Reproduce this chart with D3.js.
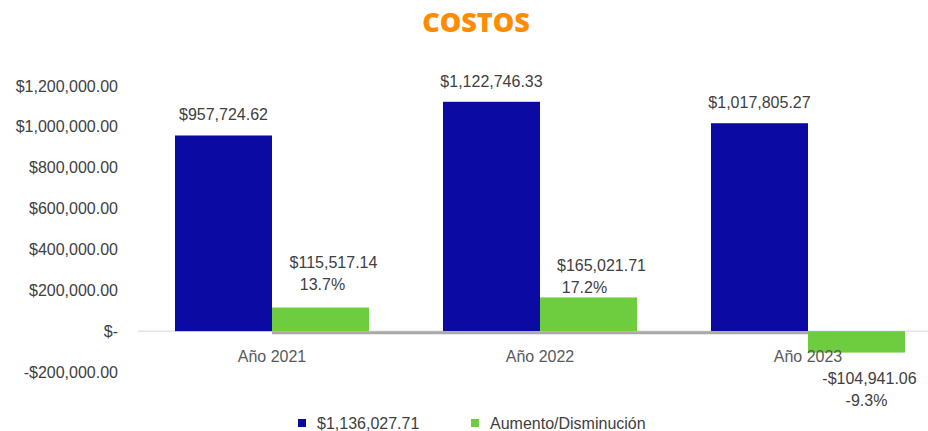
<!DOCTYPE html>
<html>
<head>
<meta charset="utf-8">
<script src="https://cdn.jsdelivr.net/npm/d3@7"></script>
<style>
  body { margin: 0; background: #fff; }
  svg text { font-family: "Liberation Sans", Arial, sans-serif; fill: #404040; }
</style>
</head>
<body>
<div id="chart"></div>
<script>
// data
var years      = ['Año 2021', 'Año 2022', 'Año 2023'];
var seriesKeys = ['total', 'delta'];
var seriesNames = ['$1,136,027.71', 'Aumento/Disminución'];
var totals     = [957724.62, 1122746.33, 1017805.27];
var deltas     = [115517.14, 165021.71, -104941.06];
var deltaPct   = ['13.7%', '17.2%', '-9.3%'];
var yTicks     = [-200000, 0, 200000, 400000, 600000, 800000, 1000000, 1200000];

var W = 928, H = 431;
var BLUE = '#0b0ba3', GREEN = '#6dcd3e';

var svg = d3.select('#chart').append('svg')
  .attr('width', W).attr('height', H);

var y = d3.scaleLinear().domain([-200000, 1200000]).range([372, 86]);
var x0 = d3.scaleBand().domain(years).range([138, 942])
  .paddingInner(0.276).paddingOuter(0.138);
var x1 = d3.scaleBand().domain(seriesKeys).range([0, x0.bandwidth()]).padding(0);
var color = d3.scaleOrdinal().domain(seriesKeys).range([BLUE, GREEN]);

var money = d3.format(',.2f');
function fmtMoney(v) {
  if (v === 0) return '$-';
  return (v < 0 ? '-$' : '$') + money(Math.abs(v));
}

// title
svg.append('text')
  .attr('x', 476).attr('y', 32)
  .attr('text-anchor', 'middle')
  .style('font-family', '"Open Sans", sans-serif')
  .style('font-weight', 800)
  .style('font-size', '27px')
  .style('fill', '#ff8c00')
  .text('COSTOS');

// y axis labels (no line)
var yAxis = d3.axisLeft(y).tickValues(yTicks).tickFormat(fmtMoney).tickSize(0).tickPadding(0);
var gy = svg.append('g').attr('transform', 'translate(118,0)').call(yAxis);
gy.select('.domain').remove();
gy.selectAll('text').style('font-size', '16px').style('font-family', null);

// zero line
svg.append('line')
  .attr('x1', 138).attr('x2', W)
  .attr('y1', y(0)).attr('y2', y(0))
  .attr('stroke', '#d6d6d6').attr('stroke-width', 1);

// grouped rows
var rows = years.map(function(yr, i) {
  return { year: yr, vals: [
    { key: 'total', v: totals[i] },
    { key: 'delta', v: deltas[i], pct: deltaPct[i] }
  ]};
});

var groups = svg.selectAll('g.year').data(rows).enter().append('g')
  .attr('class', 'year')
  .attr('transform', function(d) { return 'translate(' + x0(d.year) + ',0)'; });

groups.selectAll('rect').data(function(d) { return d.vals; }).enter().append('rect')
  .attr('x', function(d) { return x1(d.key); })
  .attr('width', x1.bandwidth())
  .attr('y', function(d) { return y(Math.max(0, d.v)); })
  .attr('height', function(d) { return Math.abs(y(d.v) - y(0)); })
  .attr('fill', function(d) { return color(d.key); });

// grey floor under the bars
svg.append('line')
  .attr('x1', x0(years[0]) + x1('delta')).attr('x2', x0(years[2]) + x1('delta'))
  .attr('y1', y(0) + 1.5).attr('y2', y(0) + 1.5)
  .attr('stroke', '#a9a9a9').attr('stroke-width', 3);

// category labels
years.forEach(function(yr) {
  svg.append('text')
    .attr('x', x0(yr) + x0.bandwidth() / 2)
    .attr('y', 362)
    .attr('text-anchor', 'middle')
    .style('font-size', '16px')
    .style('fill', '#595959')
    .text(yr);
});

// labels for totals
groups.append('text')
  .attr('x', function() { return x1('total') + x1.bandwidth() / 2; })
  .attr('y', function(d) { return y(d.vals[0].v) - 15; })
  .attr('text-anchor', 'middle')
  .style('font-size', '16px')
  .text(function(d) { return fmtMoney(d.vals[0].v); });

// labels for deltas (manual nudges, like the hand-placed labels in the source)
var nudgeY = [-8, 6, 0];
var nudgeX2 = [2, -4, 10];
groups.each(function(d, i) {
  var dv = d.vals[1];
  var cx = x1('delta') + x1.bandwidth() / 2;
  var g = d3.select(this);
  var l1, l2;
  if (dv.v >= 0) {
    l2 = y(dv.v) - 10 + nudgeY[i];
    l1 = l2 - 22;
  } else {
    l1 = y(dv.v) + 31;
    l2 = l1 + 22;
  }
  g.append('text').attr('x', cx + 13).attr('y', l1)
    .attr('text-anchor', 'middle').style('font-size', '16px')
    .text(fmtMoney(dv.v));
  g.append('text').attr('x', cx + nudgeX2[i]).attr('y', l2)
    .attr('text-anchor', 'middle').style('font-size', '16px')
    .text(dv.pct);
});

// legend
var legX = [298, 471];
var legend = svg.selectAll('g.leg').data(seriesKeys).enter().append('g')
  .attr('class', 'leg')
  .attr('transform', function(d, i) { return 'translate(' + legX[i] + ',419)'; });
legend.append('rect').attr('width', 8).attr('height', 8)
  .attr('fill', function(d) { return color(d); });
legend.append('text').attr('x', 19).attr('y', 9.5)
  .style('font-size', '16px')
  .text(function(d, i) { return seriesNames[i]; });
</script>
</body>
</html>
